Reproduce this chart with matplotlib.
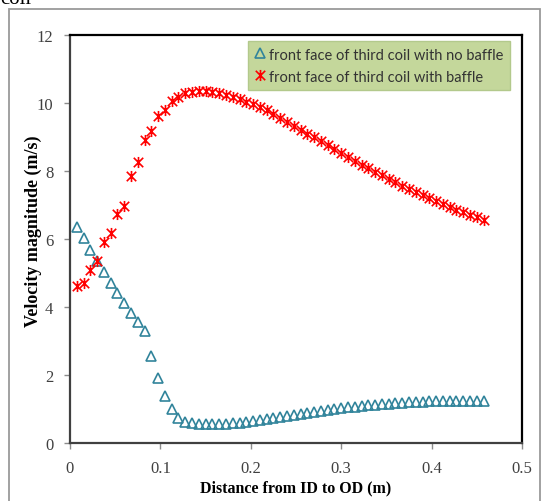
import matplotlib
matplotlib.use("Agg")
import matplotlib.pyplot as plt
from matplotlib.path import Path
from matplotlib.patches import Rectangle

# ---------------- data ----------------
x_pos = [round(0.0075 * (i + 1), 4) for i in range(61)]

no_baffle = [6.36, 6.03, 5.69, 5.35, 5.02, 4.72, 4.40, 4.11, 3.83, 3.57,
             3.30, 2.55, 1.90, 1.39, 1.00, 0.75, 0.63, 0.58, 0.56, 0.56,
             0.56, 0.56, 0.57, 0.58, 0.60, 0.62, 0.65, 0.68, 0.71, 0.74,
             0.77, 0.80, 0.83, 0.86, 0.89, 0.92, 0.95, 0.98, 1.00, 1.03,
             1.05, 1.07, 1.09, 1.11, 1.13, 1.15, 1.16, 1.18, 1.19, 1.20,
             1.21, 1.22, 1.23, 1.23, 1.24, 1.24, 1.24, 1.24, 1.24, 1.24,
             1.24]

with_baffle = [4.61, 4.71, 5.10, 5.36, 5.92, 6.18, 6.74, 6.96, 7.86, 8.27,
               8.91, 9.19, 9.61, 9.80, 10.05, 10.17, 10.28, 10.33, 10.36, 10.36,
               10.33, 10.29, 10.25, 10.19, 10.12, 10.04, 9.96, 9.87, 9.78, 9.68,
               9.56, 9.45, 9.33, 9.21, 9.09, 8.99, 8.88, 8.76, 8.64, 8.52,
               8.41, 8.30, 8.19, 8.08, 7.98, 7.87, 7.77, 7.67, 7.57, 7.47,
               7.38, 7.29, 7.20, 7.11, 7.02, 6.94, 6.86, 6.78, 6.71, 6.64,
               6.57]

series_labels = ["front face of third coil with no baffle",
                 "front face of third coil with baffle"]
x_ticks = [0, 0.1, 0.2, 0.3, 0.4, 0.5]
x_tick_labels = ["0", "0.1", "0.2", "0.3", "0.4", "0.5"]
y_ticks = [0, 2, 4, 6, 8, 10, 12]

# ---------------- figure ----------------
W, H = 541, 502
fig = plt.figure(figsize=(W / 100, H / 100), dpi=100)

# outer chart frame
fig.patches.append(Rectangle((9 / W, -0.05), (540 - 9) / W, 1.05 - 10 / H,
                             transform=fig.transFigure, fill=False,
                             edgecolor="#9a9a9a", linewidth=1.3))
# partially visible document text above the chart (cut off as in the source)
fig.text(0.0, (H - 3.5) / H, "coil", family="Liberation Serif",
         fontsize=15, va="baseline", ha="left", color="black")

ax = fig.add_axes([70 / W, (H - 444) / H, (522 - 70) / W, (444 - 36) / H])

teal = "#31849B"
star = Path([(0, -1), (0, 1), (-0.85, -0.85), (0.85, 0.85),
             (-0.85, 0.85), (0.85, -0.85)],
            [Path.MOVETO, Path.LINETO, Path.MOVETO, Path.LINETO,
             Path.MOVETO, Path.LINETO])

ax.plot(x_pos, no_baffle, linestyle="none", marker="^", markersize=6.6,
        markerfacecolor="none", markeredgecolor=teal, markeredgewidth=1.2,
        label=series_labels[0])
ax.plot(x_pos, with_baffle, linestyle="none", marker=star, markersize=8,
        markerfacecolor="none", markeredgecolor="#ff0000", markeredgewidth=1.2,
        label=series_labels[1])

ax.set_xlim(0, 0.5)
ax.set_ylim(0, 12)
ax.set_xticks(x_ticks)
ax.set_xticklabels(x_tick_labels)
ax.set_yticks(y_ticks)

for s in ax.spines.values():
    s.set_color("black")
    s.set_linewidth(1.6)
ax.spines["left"].set_color("#404040")
ax.spines["bottom"].set_color("#404040")

ax.tick_params(axis="both", direction="out", length=4, width=1,
               color="#8c8c8c", labelcolor="#404040", labelsize=12,
               pad=8)
for lab in ax.get_xticklabels() + ax.get_yticklabels():
    lab.set_family("Liberation Serif")

ax.set_xlabel("Distance from ID to OD (m)", family="Liberation Serif",
              fontweight="bold", fontsize=11.5)
ax.xaxis.set_label_coords(0.5, -(488 - 444) / 408)
ax.xaxis.label.set_va("center")
ax.set_ylabel("Velocity magnitude (m/s)", family="Liberation Serif",
              fontweight="bold", fontsize=13)
ax.yaxis.set_label_coords(-(70 - 33) / 452, (444 - 231) / 408)
ax.yaxis.label.set_va("center")

leg = ax.legend(loc="upper right", bbox_to_anchor=((510 - 70) / 452, (444 - 42) / 408),
                borderaxespad=0, frameon=True, fancybox=False,
                facecolor="#C4D79B", edgecolor="#B3C98C", framealpha=1,
                prop={"family": "Lato", "size": 10.5},
                handlelength=0.7, handletextpad=0.3, labelspacing=0.55,
                borderpad=0.45, markerscale=1.0)
for t in leg.get_texts():
    t.set_color("#333333")

fig.savefig("out.png", dpi=100)
